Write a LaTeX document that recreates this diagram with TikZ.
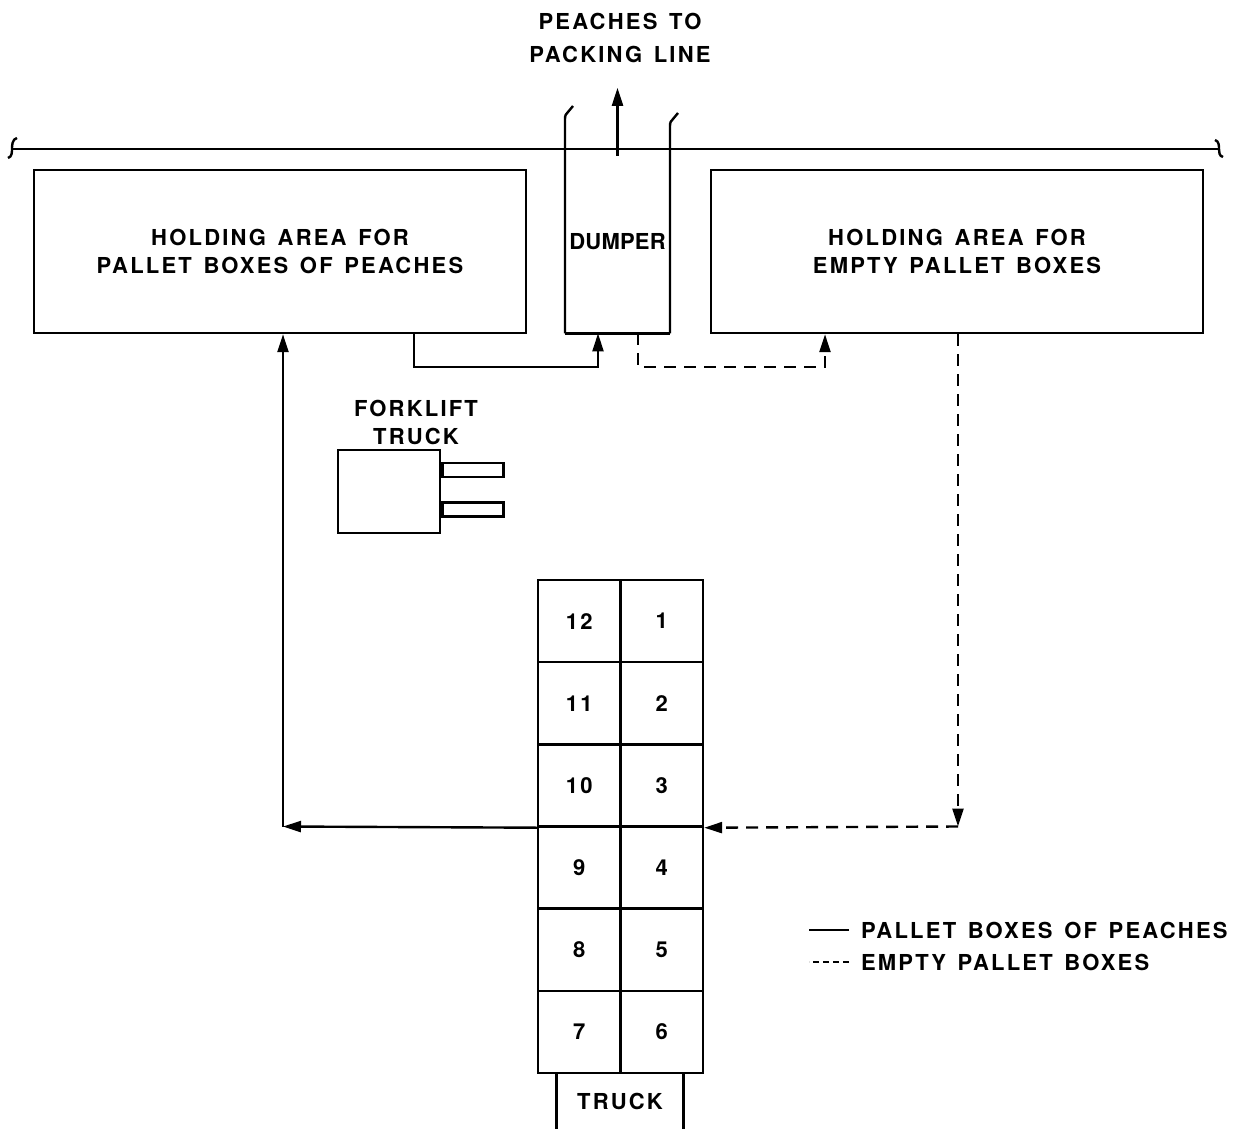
\documentclass[tikz,border=0pt]{standalone}
\usepackage{fontspec}
\setmainfont{TeX Gyre Heros}[LetterSpace=10,WordSpace=1.4]
\usetikzlibrary{arrows.meta}

\begin{document}
\begin{tikzpicture}[x=0.5pt,y=-0.5pt,every node/.style={font=\fontsize{11}{14}\selectfont\bfseries},area/.style={draw,line width=1.2pt,minimum width=246pt,minimum height=81.5pt,inner sep=0pt,align=center},cell/.style={draw,line width=1.2pt,minimum width=41.25pt,minimum height=41.08pt,inner sep=0pt},fullflow/.style={line width=1.2pt},emptyflow/.style={line width=1.2pt,dash pattern=on 6pt off 4pt},tip/.style={-{Triangle[length=9pt,width=5.5pt]}}]
\useasboundingbox (0,0) rectangle (1238,1129);
\coordinate (wallL) at (12,149);
\coordinate (wallR) at (1219,149);
\draw[fullflow] (wallL) -- (wallR);
\draw[fullflow] (17,138) .. controls (12,139) and (12,146) .. (12,149) .. controls (12,152) and (12,157) .. (8,158);
\draw[fullflow] (1215,140) .. controls (1219,141) and (1219,146) .. (1219,149) .. controls (1219,152) and (1219,156) .. (1223,157);
\node[area] (peaches) at (280,251.5) {HOLDING AREA FOR\\PALLET BOXES OF PEACHES};
\node[area] (empties) at (957,251.5) {HOLDING AREA FOR\\EMPTY PALLET BOXES};
\node[minimum width=52.5pt,minimum height=91.5pt,inner sep=0pt,font=\fontsize{11}{14}\selectfont\bfseries\addfontfeature{LetterSpace=1}] (dumper) at (617.5,241.5) {DUMPER};
\coordinate (dl) at (565,119);
\coordinate (dr) at (670,126);
\draw[fullflow] (dumper.south -| dl) -- (dl) .. controls (565,115) and (566,114) .. (568,112) -- (573,106);
\draw[fullflow] (dumper.south -| dr) -- (dr) .. controls (670,122) and (671,121) .. (673,119) -- (678,113);
\draw[fullflow] (dumper.south -| dl) -- (dumper.south -| dr);
\node[align=center,font=\fontsize{11}{16.5}\selectfont\bfseries] (packing) at (620,38) {PEACHES TO\\PACKING LINE};
\draw[fullflow,tip] ([yshift=-3pt]dumper.north) -- ([yshift=-9pt]dumper.north |- packing.south);
\coordinate (p1) at (414,367);
\coordinate (p2) at (598,367);
\draw[fullflow,tip] (peaches.south -| p1) |- (p2) -- (dumper.south -| p2);
\coordinate (e1) at (638,367);
\coordinate (e2) at (825,367);
\draw[emptyflow,tip] (dumper.south -| e1) |- (e2) -- (empties.south -| e2);
\node[align=center] (liftlabel) at (416,422) {FORKLIFT\\TRUCK};
\node[draw,line width=1.2pt,minimum width=51pt,minimum height=41.5pt,inner sep=0pt] (lift) at (389,491.5) {};
\node[draw,line width=1.2pt,minimum width=30.5pt,minimum height=7pt,inner sep=0pt,anchor=west] (tineA) at (lift.east |- 0,470) {};
\node[draw,line width=1.2pt,minimum width=30.5pt,minimum height=7pt,inner sep=0pt,anchor=west] (tineB) at (lift.east |- 0,509.5) {};
\foreach \n [count=\i from 0] in {12,11,10,9,8,7}
  \node[cell] (c\n) at (579.25,621.08+82.17*\i) {\n};
\foreach \n [count=\i from 0] in {1,2,3,4,5,6}
  \node[cell] (c\n) at (661.75,621.08+82.17*\i) {\n};
\node[minimum width=63pt,minimum height=28pt,inner sep=0pt] (cab) at (620,1101) {TRUCK};
\draw[fullflow] (cab.south west) -- (cab.north west);
\draw[fullflow] (cab.south east) -- (cab.north east);
\coordinate (e3) at (958,826.5);
\coordinate (p3) at (283,826.5);
\draw[emptyflow,tip] (empties.south -| e3) -- (e3);
\draw[emptyflow,tip] (e3) -- (c3.south east);
\draw[fullflow,tip] (c10.south west) -- (p3);
\draw[fullflow,tip] (p3) -- (peaches.south -| p3);
\node[anchor=west] (legfull) at (854,930) {PALLET BOXES OF PEACHES};
\node[anchor=west] (legempty) at (854,962) {EMPTY PALLET BOXES};
\draw[fullflow] ([xshift=-2.5pt]legfull.west) -- ++(-40,0);
\draw[line width=1.2pt,dash pattern=on 3pt off 2pt] ([xshift=-2.5pt]legempty.west) -- ++(-40,0);
\end{tikzpicture}
\end{document}
